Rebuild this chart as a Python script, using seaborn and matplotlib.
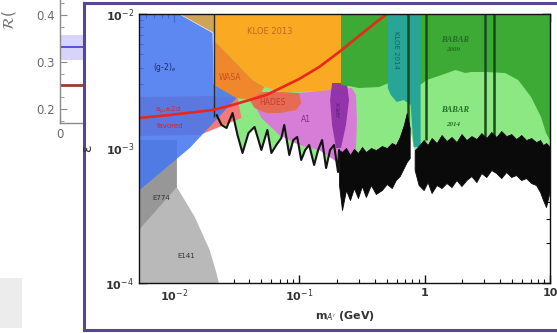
import matplotlib
matplotlib.use("Agg")
import matplotlib.pyplot as plt
import seaborn as sns
from matplotlib.patches import Rectangle
from matplotlib.ticker import LogLocator, NullFormatter, MultipleLocator

# ---------------- data ----------------
# background panel (partly hidden)
R_TICKS = [0.2, 0.3, 0.4]
R_TICK_LABELS = ["0.2", "0.3", "0.4"]
R_BLUE = 0.332
R_BLUE_BAND = [0.304, 0.357]
R_RED = 0.251

# main panel axes
MASS_TICKS = [0.01, 0.1, 1, 10]
MASS_TICK_LABELS = [r"10$^{-2}$", r"10$^{-1}$", "1", "10"]
EPS_TICKS = [1e-4, 1e-3, 1e-2]
EPS_TICK_LABELS = [r"10$^{-4}$", r"10$^{-3}$", r"10$^{-2}$"]

# exclusion regions (mass in GeV, epsilon)
E141_MASS = [0.005, 0.01056, 0.01056, 0.01116, 0.01468, 0.01931, 0.02154, 0.02318, 0.005]
E141_EPS = [1.157e-3, 1.157e-3, 5.17e-4, 4.75e-4, 3.10e-4, 1.76e-4, 1.25e-4, 0.95e-4, 0.95e-4]

E774_MASS = [0.005, 0.01056, 0.01056, 0.005]
E774_EPS = [1.157e-3, 1.157e-3, 5.17e-4, 2.35e-4]

GM2E_MASS = [0.005, 0.01076, 0.02039, 0.02077, 0.0322, 0.0134, 0.005]
GM2E_EPS = [0.0101, 0.0101, 7.226e-3, 3.017e-3, 2.415e-3, 1.009e-3, 4.67e-4]

TAN_MASS = [0.01076, 0.02077, 0.02077]
TAN_EPS = [0.0101, 0.0101, 7.226e-3]

AMU_MASS = [0.005, 0.02039, 0.0322, 0.03465, 0.01608, 0.005]
AMU_EPS = [2.415e-3, 2.456e-3, 2.374e-3, 1.685e-3, 1.260e-3, 1.238e-3]

KLOE13_MASS = [0.02077, 0.2318, 0.2318, 0.1896, 0.1, 0.07329, 0.05275, 0.04236, 0.02077]
KLOE13_EPS = [0.0101, 0.0101, 2.818e-3, 2.723e-3, 2.631e-3, 2.631e-3, 2.865e-3, 3.229e-3, 6.411e-3]

WASA_MASS = [0.02077, 0.04236, 0.05275, 0.04994, 0.04236, 0.03162, 0.02077]
WASA_EPS = [6.411e-3, 3.229e-3, 2.865e-3, 2.631e-3, 2.294e-3, 2.374e-3, 2.965e-3]

HADES_MASS = [0.0401, 0.04994, 0.07329, 0.1, 0.1037, 0.09466, 0.06939, 0.05472, 0.044]
HADES_EPS = [2.294e-3, 2.631e-3, 2.631e-3, 2.587e-3, 2.180e-3, 1.932e-3, 1.836e-3, 1.836e-3, 2.0e-3]

A1_MASS = [0.044, 0.1, 0.2634, 0.2834, 0.2886, 0.2834, 0.2587, 0.2275, 0.1896, 0.1442,
           0.1, 0.06939, 0.04994, 0.044]
A1_EPS = [2.499e-3, 2.587e-3, 2.818e-3, 2.499e-3, 1.628e-3, 9.74e-4, 7.54e-4, 7.16e-4,
          8.21e-4, 9.74e-4, 1.062e-3, 1.260e-3, 1.685e-3, 2.106e-3]

APEX_MASS = [0.1828, 0.2404, 0.2494, 0.2360, 0.2154, 0.1966, 0.1828, 0.1762]
APEX_EPS = [3.069e-3, 3.069e-3, 2.294e-3, 1.495e-3, 1.009e-3, 1.009e-3, 1.495e-3, 2.294e-3]

BABAR09_MASS = [0.2154, 10.5, 10.5, 9.296, 8.484, 7.067, 5.572, 4.395, 3.048, 2.3605, 2.1155,
                1.762, 1.3646, 1.0373, 0.8963, 0.7464, 0.6219, 0.5179, 0.4313, 0.2993, 0.2494, 0.2154]
BABAR09_EPS = [0.0101, 0.0101, 1.062e-3, 1.303e-3, 1.714e-3, 2.415e-3, 3.229e-3, 3.641e-3,
               3.706e-3, 3.706e-3, 3.641e-3, 3.834e-3, 3.519e-3, 3.229e-3, 2.915e-3, 2.818e-3,
               2.723e-3, 3.069e-3, 2.865e-3, 2.818e-3, 2.915e-3, 2.965e-3]

KLOE14_MASS = [0.5085, 0.9297, 0.9297, 0.8177, 0.7743, 0.6813, 0.5995, 0.5373, 0.5085]
KLOE14_EPS = [0.0101, 0.0101, 1.026e-3, 1.026e-3, 2.106e-3, 2.294e-3, 2.217e-3, 2.499e-3, 2.818e-3]

# BaBar 2014 limit: low-mass oscillating curve
LIMIT_MASS = [0.02194, 0.0240, 0.0263, 0.0294, 0.0322, 0.0353, 0.0394, 0.0440, 0.0473, 0.0499,
              0.0557, 0.0600, 0.0657, 0.0720, 0.0760, 0.0833, 0.0896, 0.0964, 0.1037, 0.1116,
              0.1200, 0.1315, 0.1415, 0.1522, 0.1638, 0.1762, 0.1896, 0.2039]
LIMIT_EPS = [1.774e-3, 1.496e-3, 1.420e-3, 1.836e-3, 1.260e-3, 9.26e-4, 1.304e-3, 1.446e-3,
             1.156e-3, 9.75e-4, 1.373e-3, 9.26e-4, 1.062e-3, 1.197e-3, 1.496e-3, 8.95e-4,
             1.156e-3, 1.218e-3, 8.21e-4, 9.75e-4, 1.062e-3, 7.54e-4, 9.75e-4, 1.156e-3,
             7.16e-4, 9.75e-4, 1.062e-3, 6.69e-4]

# BaBar 2014 limit: dense fluctuating band (upper / lower envelope)
BAND_A_MASS = [0.2077, 0.2194, 0.2360, 0.2540, 0.2733, 0.2940, 0.3162, 0.3401, 0.3728, 0.4085,
               0.4558, 0.4994, 0.5472, 0.5887, 0.6333, 0.6813, 0.7197, 0.7603]
BAND_A_TOP = [9.74e-4, 9.42e-4, 1.009e-3, 8.95e-4, 9.91e-4, 9.26e-4, 1.026e-3, 9.42e-4, 1.009e-3,
              9.74e-4, 1.044e-3, 1.009e-3, 1.099e-3, 1.062e-3, 1.218e-3, 1.495e-3, 1.836e-3, 1.421e-3]
BAND_A_BOTTOM = [5.35e-4, 3.49e-4, 4.91e-4, 4.14e-4, 5.08e-4, 4.28e-4, 5.26e-4, 4.36e-4, 5.35e-4,
                 4.59e-4, 4.91e-4, 5.45e-4, 5.08e-4, 5.83e-4, 6.24e-4, 7.16e-4, 7.94e-4, 8.50e-4]

BAND_B_MASS = [0.8329, 0.8963, 0.9820, 1.0564, 1.1366, 1.2454, 1.3646, 1.4950, 1.6380, 1.7950,
               1.9665, 2.1544, 2.3605, 2.5863, 2.8337, 3.1047, 3.4015, 3.7275, 4.0840, 4.4750,
               4.9030, 5.3720, 5.8870, 6.4500, 7.0670, 7.7430, 8.3290, 8.7990, 9.2960, 10.0]
BAND_B_TOP = [9.74e-4, 1.044e-3, 1.157e-3, 1.062e-3, 1.197e-3, 1.099e-3, 1.260e-3, 1.137e-3,
              1.218e-3, 1.117e-3, 1.281e-3, 1.157e-3, 1.238e-3, 1.177e-3, 1.303e-3, 1.197e-3,
              1.327e-3, 1.218e-3, 1.349e-3, 1.238e-3, 1.281e-3, 1.177e-3, 1.260e-3, 1.157e-3,
              1.197e-3, 1.117e-3, 1.157e-3, 1.062e-3, 1.099e-3, 1.026e-3]
BAND_B_BOTTOM = [6.92e-4, 5.35e-4, 4.91e-4, 5.63e-4, 4.67e-4, 5.35e-4, 5.08e-4, 5.54e-4, 5.17e-4,
                 5.83e-4, 5.26e-4, 5.83e-4, 6.24e-4, 5.63e-4, 6.57e-4, 6.14e-4, 6.92e-4, 6.57e-4,
                 6.03e-4, 6.69e-4, 6.14e-4, 6.35e-4, 5.83e-4, 6.03e-4, 5.54e-4, 5.35e-4, 4.75e-4,
                 4.14e-4, 3.67e-4, 4.91e-4]

VETO_MASS = [0.733, 1.018, 3.048, 3.594]
VETO_EPS_LOW = 1.15e-3

# g-2 favoured central curve
RED_MASS = [0.005, 0.00929, 0.0204, 0.02938, 0.05473, 0.1, 0.1442, 0.2077, 0.2993, 0.3934, 0.499, 0.53]
RED_EPS = [1.68e-3, 1.774e-3, 1.932e-3, 2.106e-3, 2.5e-3, 3.289e-3, 4.036e-3, 5.212e-3,
           6.862e-3, 8.425e-3, 0.01, 0.0106]

# ---------------- style ----------------
sns.set_style("ticks")
plt.rcParams["font.family"] = ["DejaVu Sans"]

W, H = 557, 333
fig = plt.figure(figsize=(W / 100, H / 100), dpi=100)


def fx(px):
    return px / W


def fy(py):
    return 1 - py / H


# ---------- background (partially hidden) panel ----------
axL = fig.add_axes([fx(60), fy(123), fx(60), 123 / H], zorder=0)
axL.set_xlim(0, 1)
axL.set_ylim(0.170, 0.432)
axL.axhspan(R_BLUE_BAND[0], R_BLUE_BAND[1], color="#d6d4fa", lw=0)
sns.lineplot(x=[0, 1], y=[R_BLUE, R_BLUE], ax=axL, color="#4a48d0", lw=1.3)
sns.lineplot(x=[0, 1], y=[R_RED, R_RED], ax=axL, color="#9c3a2e", lw=2.0)
axL.set_yticks(R_TICKS, R_TICK_LABELS)
axL.yaxis.set_minor_locator(MultipleLocator(0.025))
axL.set_xticks([0], ["0"])
for s in ["top", "right"]:
    axL.spines[s].set_visible(False)
for s in ["left", "bottom"]:
    axL.spines[s].set_color("#8a8a8a")
    axL.spines[s].set_linewidth(1.0)
axL.tick_params(which="both", direction="in", colors="#8a8a8a", labelcolor="#6a6a6a", labelsize=8.5)
axL.tick_params(which="major", length=5)
axL.tick_params(which="minor", length=3)
fig.text(fx(9), fy(30), r"$\mathcal{R}($", rotation=90, ha="center", va="bottom",
         color="#707070", fontsize=11)
fig.add_artist(Rectangle((0, fy(328)), fx(22), 50 / H, transform=fig.transFigure,
                         color="#ececec", lw=0, zorder=0))

# ---------- framing panel ----------
axP = fig.add_axes([fx(84), fy(330), 0.95, 327 / H], zorder=1)
axP.set_xticks([])
axP.set_yticks([])
axP.set_facecolor("white")
for s in axP.spines.values():
    s.set_color("#5a4590")
    s.set_linewidth(2.2)

# ---------- main exclusion plot ----------
ax = fig.add_axes([fx(139), fy(283), 411 / W, 269 / H], zorder=2)
ax.set_xscale("log")
ax.set_yscale("log")
ax.set_xlim(0.005275, 10)
ax.set_ylim(1e-4, 1e-2)

# BaBar 2014 (light green) from its limit up
lg_mass = LIMIT_MASS + BAND_A_MASS + BAND_B_MASS + [10.5, LIMIT_MASS[0]]
lg_eps = LIMIT_EPS + BAND_A_TOP + BAND_B_TOP + [0.0101, 0.0101]
ax.fill(lg_mass, lg_eps, color="#8ce882", lw=0, zorder=1)

ax.fill(E141_MASS, E141_EPS, color="#b9b9b9", lw=0, zorder=2)
ax.fill(E774_MASS, E774_EPS, color="#979797", lw=0, zorder=2.1)
ax.fill(AMU_MASS, AMU_EPS, color="#f47a78", lw=0, zorder=2.5)
ax.fill(GM2E_MASS, GM2E_EPS, color="#4678f0", alpha=0.88, lw=0, zorder=3)
ax.fill(TAN_MASS, TAN_EPS, color="#cda555", lw=0, zorder=3.1)
ax.fill(KLOE13_MASS, KLOE13_EPS, color="#faaa22", lw=0, zorder=4)
ax.fill(WASA_MASS, WASA_EPS, color="#f0872d", lw=0, zorder=4.1)
ax.fill(A1_MASS, A1_EPS, color="#d77dd7", lw=0, zorder=4.2)
ax.fill(HADES_MASS, HADES_EPS, color="#e86946", alpha=0.9, lw=0, zorder=4.3)
ax.fill(APEX_MASS, APEX_EPS, color="#8c2da5", alpha=0.9, lw=0, zorder=4.4)
ax.fill(BABAR09_MASS, BABAR09_EPS, color="#3caa34", lw=0, zorder=5)
ax.fill(KLOE14_MASS, KLOE14_EPS, color="#28a596", lw=0, zorder=5.1)
ax.vlines(VETO_MASS, VETO_EPS_LOW, 0.0101, color="#1b4a1b", lw=1.8, zorder=5.2)
ax.vlines([KLOE13_MASS[0]], 1.714e-3, 0.0101, color="#2a2a2a", lw=1.0, zorder=5.2)

# BaBar 2014 limit
ax.fill_between(BAND_A_MASS, BAND_A_BOTTOM, BAND_A_TOP, color="#0a0a0a", lw=0.6, zorder=6)
ax.fill_between(BAND_B_MASS, BAND_B_BOTTOM, BAND_B_TOP, color="#0a0a0a", lw=0.6, zorder=6)
sns.lineplot(x=LIMIT_MASS + BAND_A_MASS[:1], y=LIMIT_EPS + BAND_A_TOP[:1], sort=False,
             estimator=None, color="#141414", lw=1.5, ax=ax, zorder=6)

# g-2 favoured curve
sns.lineplot(x=RED_MASS, y=RED_EPS, sort=False, estimator=None, color="#e8281a", lw=1.9,
             ax=ax, zorder=7)

# region labels
lab = dict(ha="center", va="center", zorder=8)
ax.text(0.0085, 3.97e-3, r"(g-2)$_e$", fontsize=5.5, color="#1e2a6e", **lab)
ax.text(0.0578, 7.35e-3, "KLOE 2013", fontsize=6, color="#c8641e", **lab)
ax.text(0.0278, 3.40e-3, "WASA", fontsize=5.5, color="#c8501e", **lab)
ax.text(0.0611, 2.18e-3, "HADES", fontsize=5.5, color="#c83c28", **lab)
ax.text(0.1138, 1.63e-3, "A1", fontsize=5.5, color="#8c288c", **lab)
ax.text(0.2077, 1.95e-3, "APEX", fontsize=4.5, color="#5c1a78", rotation=90, **lab)
ax.text(0.589, 5.4e-3, "KLOE 2014", fontsize=5, color="#17625a", rotation=270, **lab)
ax.text(0.0090, 1.93e-3, r"a$_\mu$,±2σ", fontsize=5, color="#e02020", **lab)
ax.text(0.0093, 1.47e-3, "favored", fontsize=5, color="#e02020", **lab)
ax.text(0.00788, 4.28e-4, "E774", fontsize=5, color="#303030", **lab)
ax.text(0.01267, 1.59e-4, "E141", fontsize=5, color="#303030", **lab)
bab = dict(ha="center", va="center", zorder=8, color="#226e22", family="Liberation Serif",
           style="italic", fontweight="bold")
ax.text(1.76, 6.41e-3, "BABAR", fontsize=6, **bab)
ax.text(1.70, 5.4e-3, "2009", fontsize=5, **bab)
ax.text(1.76, 1.93e-3, "BABAR", fontsize=6, **bab)
ax.text(1.70, 1.50e-3, "2014", fontsize=5, **bab)

# axes cosmetics
ax.set_xticks(MASS_TICKS, MASS_TICK_LABELS)
ax.set_yticks(EPS_TICKS, EPS_TICK_LABELS)
ax.xaxis.set_minor_locator(LogLocator(base=10, subs=range(2, 10), numticks=20))
ax.yaxis.set_minor_locator(LogLocator(base=10, subs=range(2, 10), numticks=20))
ax.xaxis.set_minor_formatter(NullFormatter())
ax.yaxis.set_minor_formatter(NullFormatter())
ax.tick_params(which="both", direction="in", top=True, right=True, colors="#111111",
               labelcolor="#333333", labelsize=8, zorder=9)
ax.tick_params(which="major", length=6, width=1.0)
ax.tick_params(which="minor", length=3, width=0.8)
for lbl in ax.get_xticklabels() + ax.get_yticklabels():
    lbl.set_fontweight("bold")
for s in ax.spines.values():
    s.set_color("#111111")
    s.set_linewidth(1.0)
    s.set_zorder(9)
ax.set_xlabel(r"m$_{A'}$ (GeV)", fontsize=8, fontweight="bold", color="#333333")
ax.xaxis.set_label_coords(0.5, -0.095)
ax.set_ylabel("ε", fontsize=10, color="#333333")
ax.yaxis.set_label_coords(-0.11, 0.5)

fig.savefig("out.png", dpi=100)
